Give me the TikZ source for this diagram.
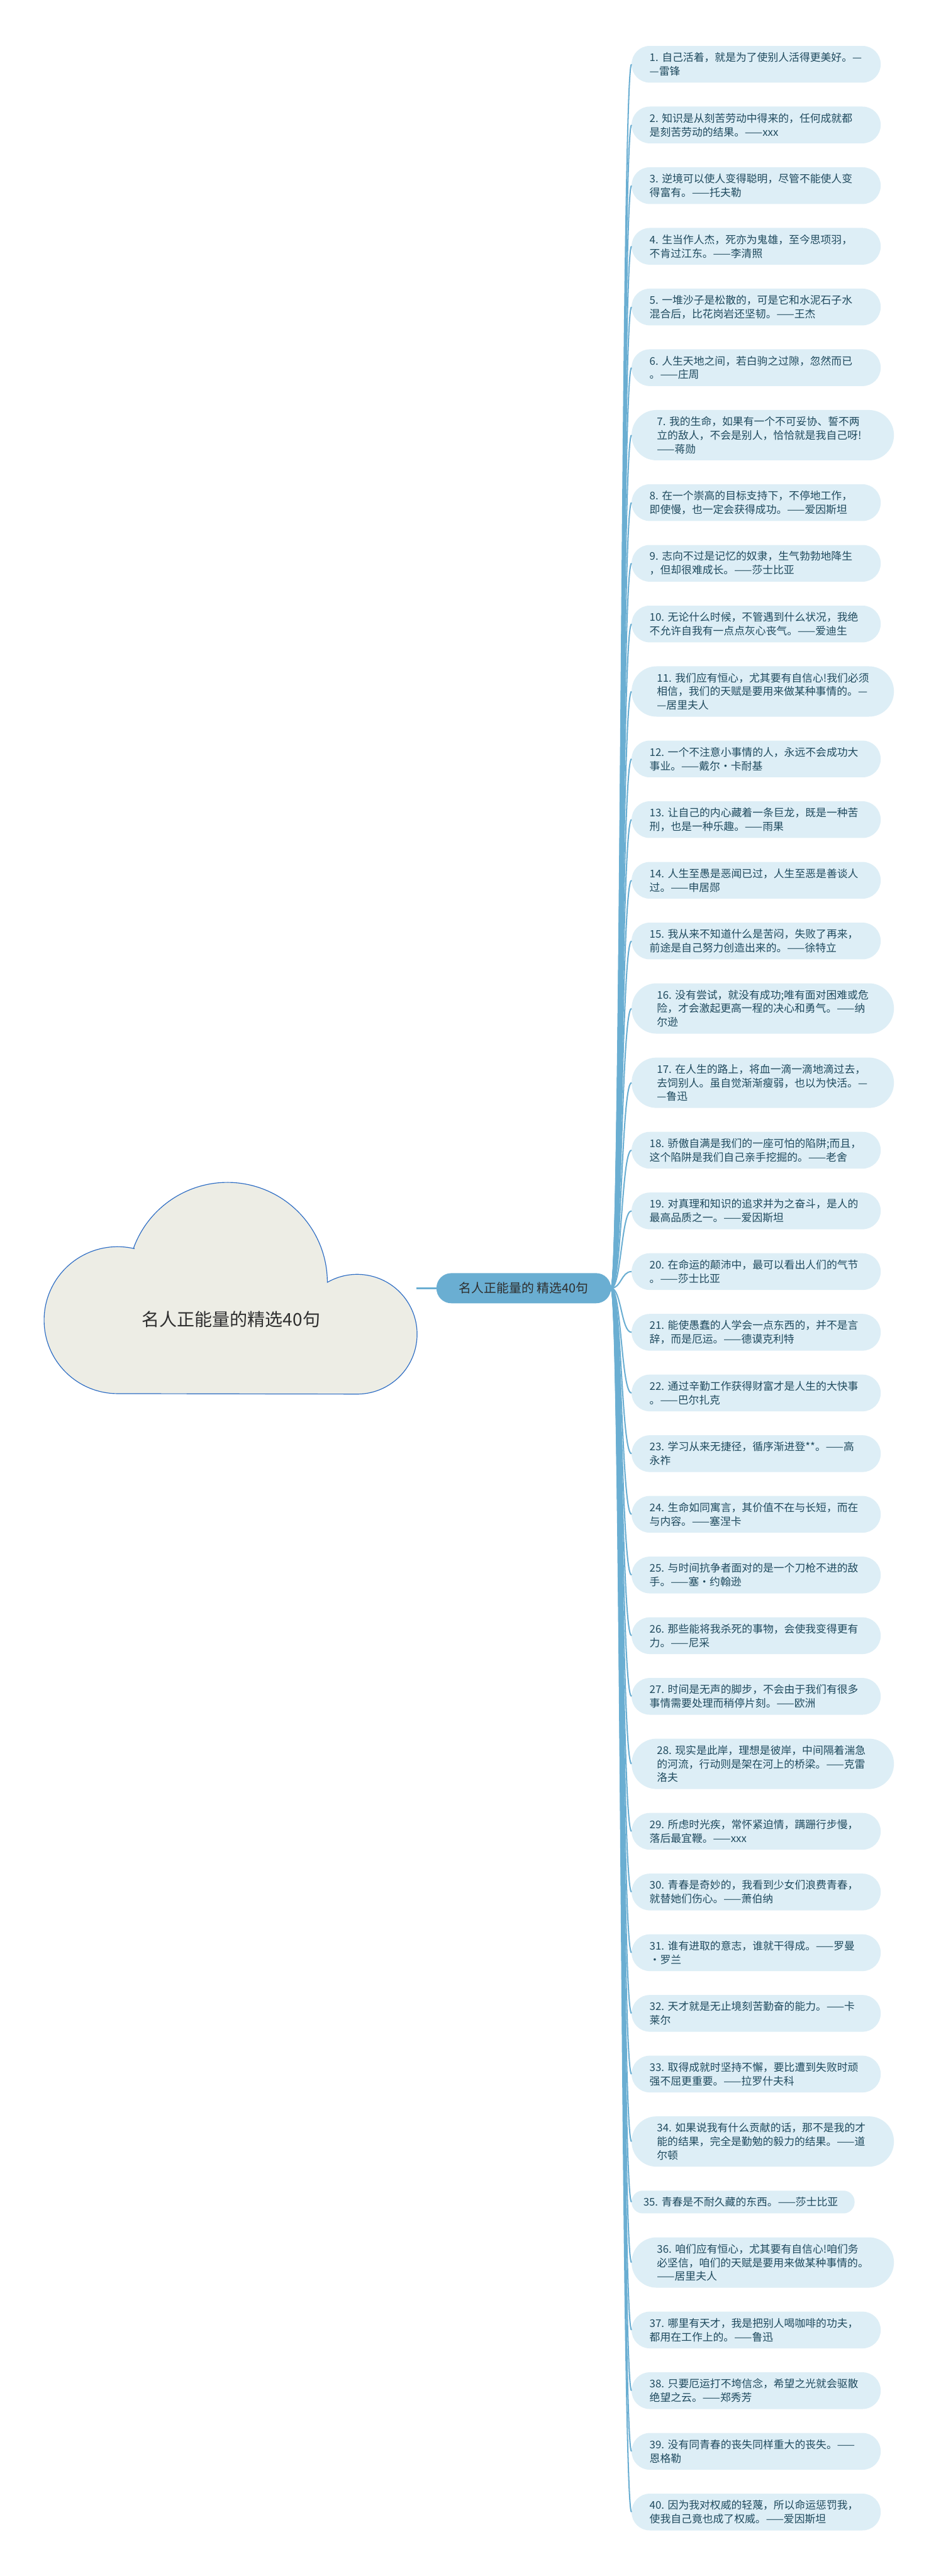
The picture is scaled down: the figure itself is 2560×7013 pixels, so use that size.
\documentclass[tikz,border=0pt]{standalone}
\usepackage{fontspec}
\setmainfont{Noto Sans CJK SC}
\definecolor{leafbg}{HTML}{DDEEF6}
\definecolor{leaftxt}{HTML}{1F4A5E}
\definecolor{connc}{HTML}{6AAED2}
\definecolor{midfill}{HTML}{6AAED2}
\definecolor{cloudfill}{HTML}{EDEDE5}
\definecolor{cloudline}{HTML}{2C6CC4}
\tikzset{
  leafbox/.style={fill=leafbg, text=leaftxt, font=\fontsize{28.8}{37.5}\selectfont, align=left, inner sep=0pt, anchor=west},
  leafA/.style={leafbox, minimum width=678, minimum height=100, text width=580, rounded corners=49.5},
  leafB/.style={leafbox, minimum width=714, minimum height=137, text width=576, rounded corners=68},
  leafC/.style={leafbox, minimum width=607, minimum height=62, text width=543, rounded corners=30.5},
  midbox/.style={fill=midfill, text=black!82, font=\fontsize{34}{40}\selectfont, inner sep=0pt, minimum width=475, minimum height=82, rounded corners=40.5},
  roottext/.style={text=black!82, font=\fontsize{48}{56}\selectfont, inner sep=0pt},
  hubline/.style={draw=connc, line width=3.5pt},
  rootline/.style={draw=connc, line width=6pt},
  cloudshape/.style={fill=cloudfill, draw=cloudline, line width=2pt}
}
\begin{document}
\begin{tikzpicture}[x=1pt, y=-1pt]
\fill[white] (0,0) rectangle (2560,7013);
\useasboundingbox (0,0) rectangle (2560,7013);
% root cloud
\path[cloudshape] (320,3794) arc[start angle=270, end angle=77, radius=200pt] -- (364.1,3396.2) arc[start angle=159.6, end angle=0, radius=272pt] arc[start angle=119.9, end angle=-90, radius=163pt] -- cycle;
\node[roottext] (root) at (629,3591) {名人正能量的精选40句};
\coordinate (rootR) at (1134,3507);
\node[midbox] (mid) at (1425.5,3507) {名人正能量的 精选40句};
% leaves
\node[leafA] (n1) at (1719,175) {1.~自己活着，就是为了使别人活得更美好。—\\—雷锋};
\node[leafA] (n2) at (1719,340.2) {2.~知识是从刻苦劳动中得来的，任何成就都\\是刻苦劳动的结果。——xxx};
\node[leafA] (n3) at (1719,505.4) {3.~逆境可以使人变得聪明，尽管不能使人变\\得富有。——托夫勒};
\node[leafA] (n4) at (1719,670.6) {4.~生当作人杰，死亦为鬼雄，至今思项羽，\\不肯过江东。——李清照};
\node[leafA] (n5) at (1719,835.8) {5.~一堆沙子是松散的，可是它和水泥石子水\\混合后，比花岗岩还坚韧。——王杰};
\node[leafA] (n6) at (1719,1001) {6.~人生天地之间，若白驹之过隙，忽然而已\\。——庄周};
\node[leafB] (n7) at (1719,1184.7) {7.~我的生命，如果有一个不可妥协、誓不两\\立的敌人，不会是别人，恰恰就是我自己呀!\\——蒋勋};
\node[leafA] (n8) at (1719,1368.4) {8.~在一个崇高的目标支持下，不停地工作，\\即使慢，也一定会获得成功。——爱因斯坦};
\node[leafA] (n9) at (1719,1533.6) {9.~志向不过是记忆的奴隶，生气勃勃地降生\\，但却很难成长。——莎士比亚};
\node[leafA] (n10) at (1719,1698.8) {10.~无论什么时候，不管遇到什么状况，我绝\\不允许自我有一点点灰心丧气。——爱迪生};
\node[leafB] (n11) at (1719,1882.5) {11.~我们应有恒心，尤其要有自信心!我们必须\\相信，我们的天赋是要用来做某种事情的。—\\—居里夫人};
\node[leafA] (n12) at (1719,2066.2) {12.~一个不注意小事情的人，永远不会成功大\\事业。——戴尔·卡耐基};
\node[leafA] (n13) at (1719,2231.4) {13.~让自己的内心藏着一条巨龙，既是一种苦\\刑，也是一种乐趣。——雨果};
\node[leafA] (n14) at (1719,2396.6) {14.~人生至愚是恶闻已过，人生至恶是善谈人\\过。——申居郧};
\node[leafA] (n15) at (1719,2561.8) {15.~我从来不知道什么是苦闷，失败了再来，\\前途是自己努力创造出来的。——徐特立};
\node[leafB] (n16) at (1719,2745.5) {16.~没有尝试，就没有成功;唯有面对困难或危\\险，才会激起更高一程的决心和勇气。——纳\\尔逊};
\node[leafB] (n17) at (1719,2947.7) {17.~在人生的路上，将血一滴一滴地滴过去，\\去饲别人。虽自觉渐渐瘦弱，也以为快活。—\\—鲁迅};
\node[leafA] (n18) at (1719,3131.4) {18.~骄傲自满是我们的一座可怕的陷阱;而且，\\这个陷阱是我们自己亲手挖掘的。——老舍};
\node[leafA] (n19) at (1719,3296.6) {19.~对真理和知识的追求并为之奋斗，是人的\\最高品质之一。——爱因斯坦};
\node[leafA] (n20) at (1719,3461.8) {20.~在命运的颠沛中，最可以看出人们的气节\\。——莎士比亚};
\node[leafA] (n21) at (1719,3627) {21.~能使愚蠢的人学会一点东西的，并不是言\\辞，而是厄运。——德谟克利特};
\node[leafA] (n22) at (1719,3792.2) {22.~通过辛勤工作获得财富才是人生的大快事\\。——巴尔扎克};
\node[leafA] (n23) at (1719,3957.4) {23.~学习从来无捷径，循序渐进登**。——高\\永祚};
\node[leafA] (n24) at (1719,4122.6) {24.~生命如同寓言，其价值不在与长短，而在\\与内容。——塞涅卡};
\node[leafA] (n25) at (1719,4287.8) {25.~与时间抗争者面对的是一个刀枪不进的敌\\手。——塞·约翰逊};
\node[leafA] (n26) at (1719,4453) {26.~那些能将我杀死的事物，会使我变得更有\\力。——尼采};
\node[leafA] (n27) at (1719,4618.2) {27.~时间是无声的脚步，不会由于我们有很多\\事情需要处理而稍停片刻。——欧洲};
\node[leafB] (n28) at (1719,4801.9) {28.~现实是此岸，理想是彼岸，中间隔着湍急\\的河流，行动则是架在河上的桥梁。——克雷\\洛夫};
\node[leafA] (n29) at (1719,4985.6) {29.~所虑时光疾，常怀紧迫情，蹒跚行步慢，\\落后最宜鞭。——xxx};
\node[leafA] (n30) at (1719,5150.8) {30.~青春是奇妙的，我看到少女们浪费青春，\\就替她们伤心。——萧伯纳};
\node[leafA] (n31) at (1719,5316) {31.~谁有进取的意志，谁就干得成。——罗曼\\·罗兰};
\node[leafA] (n32) at (1719,5481.2) {32.~天才就是无止境刻苦勤奋的能力。——卡\\莱尔};
\node[leafA] (n33) at (1719,5646.4) {33.~取得成就时坚持不懈，要比遭到失败时顽\\强不屈更重要。——拉罗什夫科};
\node[leafB] (n34) at (1719,5830.1) {34.~如果说我有什么贡献的话，那不是我的才\\能的结果，完全是勤勉的毅力的结果。——道\\尔顿};
\node[leafC] (n35) at (1719,5994.8) {35.~青春是不耐久藏的东西。——莎士比亚};
\node[leafB] (n36) at (1719,6159.5) {36.~咱们应有恒心，尤其要有自信心!咱们务\\必坚信，咱们的天赋是要用来做某种事情的。\\——居里夫人};
\node[leafA] (n37) at (1719,6343.2) {37.~哪里有天才，我是把别人喝咖啡的功夫，\\都用在工作上的。——鲁迅};
\node[leafA] (n38) at (1719,6508.4) {38.~只要厄运打不垮信念，希望之光就会驱散\\绝望之云。——郑秀芳};
\node[leafA] (n39) at (1719,6673.6) {39.~没有同青春的丧失同样重大的丧失。——\\恩格勒};
\node[leafA] (n40) at (1719,6838.8) {40.~因为我对权威的轻蔑，所以命运惩罚我，\\使我自己竟也成了权威。——爱因斯坦};
% connectors
\draw[rootline] (rootR) -- (mid.west);
\foreach \i in {1,...,40} {
  \draw[hubline] (mid.east) .. controls +(28,0) and +(-28,0) .. (n\i.west);
}
\end{tikzpicture}
\end{document}
